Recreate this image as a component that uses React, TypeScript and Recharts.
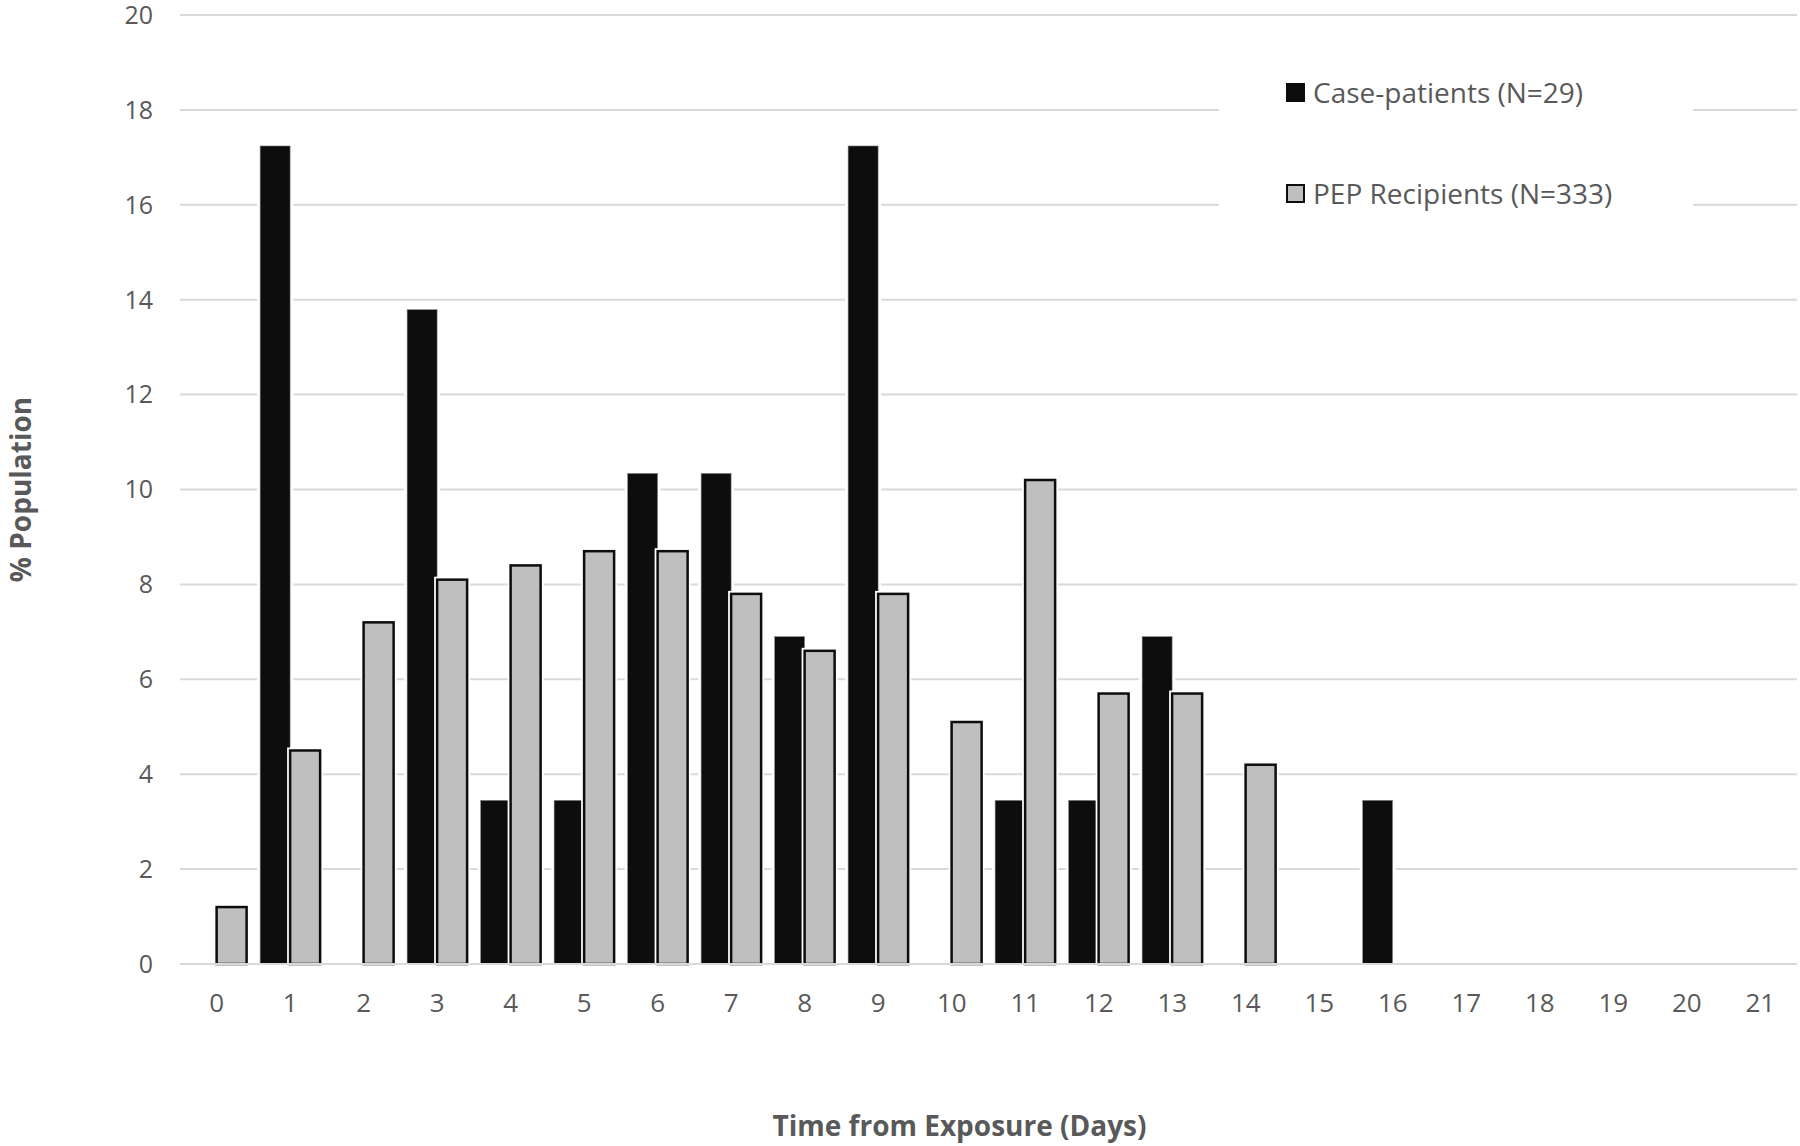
import { BarChart, Bar, XAxis, YAxis, CartesianGrid } from 'recharts';

const days = ['0', '1', '2', '3', '4', '5', '6', '7', '8', '9', '10', '11', '12', '13', '14', '15', '16', '17', '18', '19', '20', '21'];
const casePatients = [0, 17.24, 0, 13.79, 3.45, 3.45, 10.34, 10.34, 6.9, 17.24, 0, 3.45, 3.45, 6.9, 0, 0, 3.45, 0, 0, 0, 0, 0];
const pepRecipients = [1.2, 4.5, 7.2, 8.1, 8.4, 8.7, 8.7, 7.8, 6.6, 7.8, 5.1, 10.2, 5.7, 5.7, 4.2, 0, 0, 0, 0, 0, 0, 0];
const yTicks = [0, 2, 4, 6, 8, 10, 12, 14, 16, 18, 20];

const data = days.map((d, i) => ({ day: d, cases: casePatients[i], pep: pepRecipients[i] }));

const FONT = '"Open Sans", "Segoe UI", sans-serif';
const TEXT = '#595959';

// bar with a white halo so the gridlines stop short of it, like the Excel original
// eslint-disable-next-line @typescript-eslint/no-explicit-any
function HaloBar(props: any) {
  const { x, y, width, height, fill, stroke, strokeWidth } = props;
  if (!height || height <= 0) return null;
  return (
    <g>
      <rect x={x - 3} y={y - 3} width={width + 6} height={height + 3} fill="#ffffff" />
      <rect x={x} y={y} width={width} height={height} fill={fill} stroke={stroke} strokeWidth={strokeWidth} />
    </g>
  );
}

// eslint-disable-next-line @typescript-eslint/no-explicit-any
function YTitle({ viewBox }: any) {
  const cx = 20;
  const cy = viewBox.y + viewBox.height / 2;
  return (
    <text x={cx} y={cy} transform={`rotate(-90 ${cx} ${cy})`} textAnchor="middle" dominantBaseline="central"
      fontSize={28} fontWeight="bold" fill={TEXT} fontFamily={FONT}>
      % Population
    </text>
  );
}

// legend sits on a white box that hides the gridlines behind it
function LegendBox() {
  return (
    <div style={{ position: 'absolute', left: 1219, top: 46, background: '#ffffff', width: 474, height: 184, fontFamily: FONT, color: TEXT, fontSize: 28 }}>
      <div style={{ position: 'absolute', left: 67, top: 27, display: 'flex', alignItems: 'center' }}>
        <span style={{ width: 19, height: 19, background: '#0d0d0d', display: 'inline-block', marginRight: 8 }} />
        <span>Case-patients (N=29)</span>
      </div>
      <div style={{ position: 'absolute', left: 67, top: 128, display: 'flex', alignItems: 'center' }}>
        <span style={{ width: 15, height: 15, background: '#bfbfbf', border: '2px solid #0d0d0d', display: 'inline-block', marginRight: 8 }} />
        <span>PEP Recipients (N=333)</span>
      </div>
    </div>
  );
}

export default function App() {
  return (
    <div style={{ position: 'absolute', left: 0, top: 0, width: 1800, height: 1146, background: '#ffffff' }}>
      <BarChart
        width={1800}
        height={1146}
        data={data}
        margin={{ top: 15, right: 3, bottom: 0, left: 0 }}
        barCategoryGap="9%"
        barGap={0}
      >
        <CartesianGrid vertical={false} stroke="#d9d9d9" strokeWidth={2} />
        <XAxis
          dataKey="day"
          height={182}
          tickSize={0}
          tickMargin={30}
          axisLine={{ stroke: '#d9d9d9', strokeWidth: 2 }}
          tick={{ fontSize: 26, fill: TEXT, fontFamily: FONT }}
          label={{ value: 'Time from Exposure (Days)', position: 'insideBottom', offset: 10, dx: -29, fontSize: 28, fontWeight: 'bold', fill: TEXT, fontFamily: FONT }}
        />
        <YAxis
          width={180}
          domain={[0, 20]}
          ticks={yTicks}
          tickSize={0}
          tickMargin={27}
          axisLine={false}
          tick={{ fontSize: 25, fill: TEXT, fontFamily: FONT }}
          label={<YTitle />}
        />
        <Bar dataKey="cases" name="Case-patients (N=29)" fill="#0d0d0d" stroke="#8c8c8c" strokeWidth={0.6} shape={<HaloBar />} isAnimationActive={false} />
        <Bar dataKey="pep" name="PEP Recipients (N=333)" fill="#bfbfbf" stroke="#0d0d0d" strokeWidth={2.5} shape={<HaloBar />} isAnimationActive={false} />
      </BarChart>
      <LegendBox />
    </div>
  );
}
